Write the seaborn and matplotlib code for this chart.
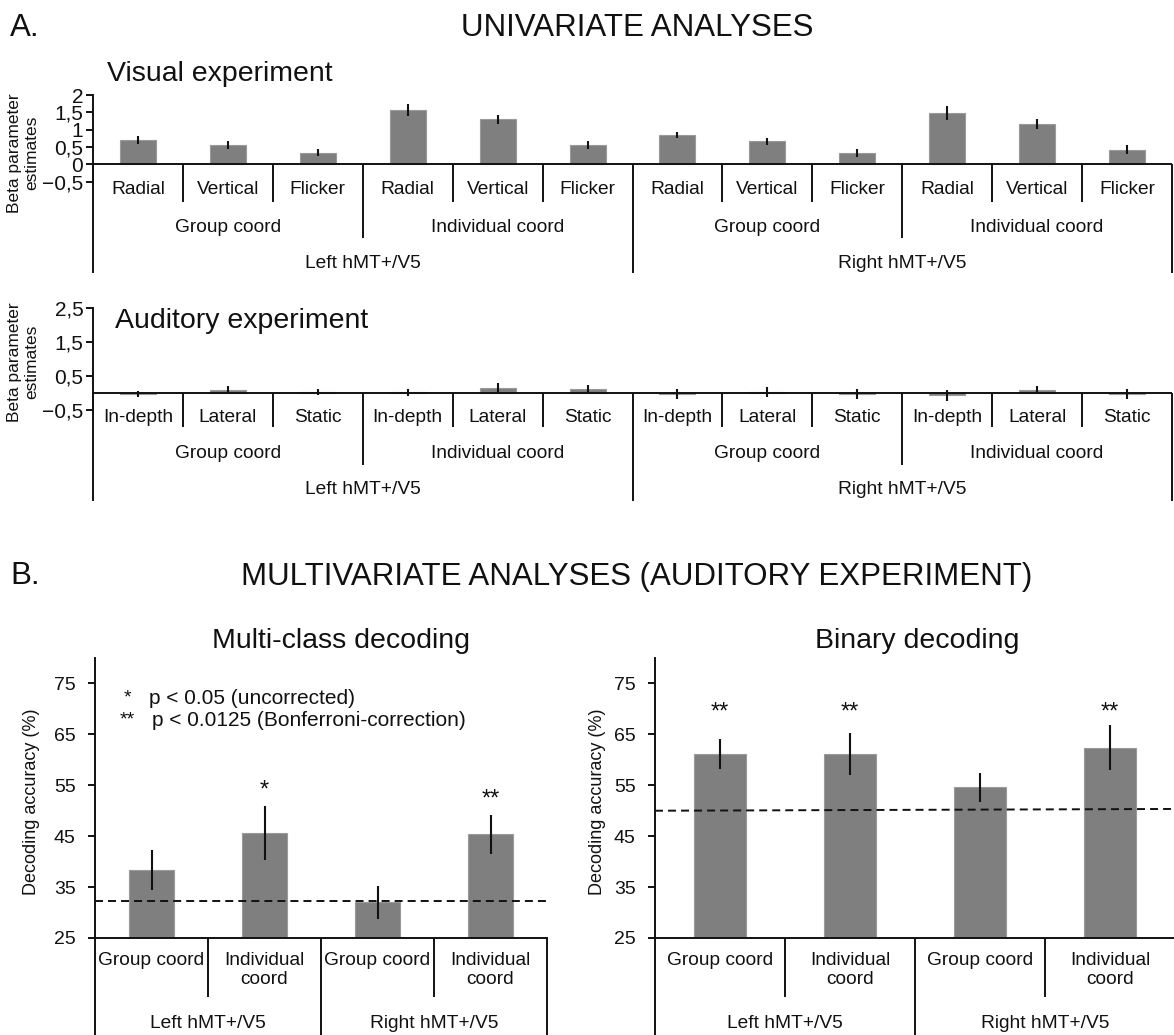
import numpy as np
import pandas as pd
import matplotlib
matplotlib.use("Agg")
import matplotlib.pyplot as plt
import matplotlib.transforms as mtransforms
import seaborn as sns

# ---------------------------------------------------------------- data
hemispheres = ["Left hMT+/V5", "Right hMT+/V5"]
coord_types = ["Group coord", "Individual coord"]
visual_conditions = ["Radial", "Vertical", "Flicker"]
auditory_conditions = ["In-depth", "Lateral", "Static"]

# beta estimates, ordered hemisphere > coordinates > condition
visual_beta = [0.70, 0.55, 0.33, 1.57, 1.30, 0.55, 0.84, 0.66, 0.33, 1.49, 1.16, 0.42]
visual_err = [0.11, 0.11, 0.10, 0.18, 0.13, 0.12, 0.09, 0.11, 0.11, 0.20, 0.14, 0.13]
auditory_beta = [-0.04, 0.09, 0.02, 0.01, 0.15, 0.10, -0.04, 0.03, -0.04, -0.08, 0.08, -0.04]
auditory_err = [0.10, 0.10, 0.09, 0.10, 0.13, 0.12, 0.15, 0.15, 0.14, 0.15, 0.13, 0.15]

visual_yticks = [-0.5, 0, 0.5, 1, 1.5, 2]
visual_yticklabels = ["\u22120,5", "0", "0,5", "1", "1,5", "2"]
auditory_yticks = [-0.5, 0.5, 1.5, 2.5]
auditory_yticklabels = ["\u22120,5", "0,5", "1,5", "2,5"]

decoding_labels = ["Group coord", "Individual\ncoord", "Group coord", "Individual\ncoord"]
decoding_yticks = [25, 35, 45, 55, 65, 75]
multiclass_acc = [38.4, 45.7, 32.0, 45.4]
multiclass_err = [3.9, 5.3, 3.3, 3.85]
multiclass_sig = ["", "*", "", "**"]
multiclass_chance = [32.25, 32.25]
binary_acc = [61.1, 61.1, 54.6, 62.4]
binary_err = [2.9, 4.1, 2.9, 4.45]
binary_sig = ["**", "**", "", "**"]
binary_chance = [50.0, 50.35]

# ---------------------------------------------------------------- style
W, H, DPI = 1174, 1035, 100
INK = "#111111"
BAR_COLOR = "#7f7f7f"
BAR_EDGE = "#9a9a9a"
LW = 1.4
CAT_FS = 13.8

sns.set_style("ticks")
plt.rcParams["font.family"] = ["Liberation Sans", "DejaVu Sans"]
plt.rcParams["text.color"] = INK
plt.rcParams["axes.edgecolor"] = INK
plt.rcParams["xtick.color"] = INK
plt.rcParams["ytick.color"] = INK

fig = plt.figure(figsize=(W / DPI, H / DPI), dpi=DPI)
fig.patch.set_facecolor("white")


def fx(px):
    return px / W


def fy(py):
    return 1 - py / H


def bar_axes(box, values, errs, ylim, yticks, yticklabels, tick_fs, tick_pad):
    left, top, right, bottom = box
    ax = fig.add_axes([fx(left), fy(bottom), (right - left) / W, (bottom - top) / H])
    ax.patch.set_alpha(0)
    n = len(values)
    df = pd.DataFrame({"slot": np.arange(n), "value": values})
    sns.barplot(data=df, x="slot", y="value", color=BAR_COLOR, saturation=1,
                width=0.4, edgecolor=BAR_EDGE, linewidth=0.8, errorbar=None,
                ax=ax, zorder=2)
    ax.errorbar(np.arange(n), values, yerr=errs, fmt="none", ecolor=INK,
                elinewidth=1.5, capsize=0, zorder=3)
    ax.set_xlim(-0.5, n - 0.5)
    ax.set_ylim(*ylim)
    ax.set_yticks(yticks)
    ax.set_yticklabels(yticklabels)
    ax.set_xticks([])
    ax.set_xlabel("")
    ax.set_ylabel("")
    for side in ("top", "right"):
        ax.spines[side].set_visible(False)
    ax.spines["left"].set_linewidth(LW)
    ax.spines["bottom"].set_linewidth(LW)
    ax.tick_params(axis="y", direction="out", length=5, width=LW,
                   labelsize=tick_fs, pad=tick_pad)
    return ax


def category_axis(ax, base_value, n, levels, bottom_px):
    """Nested category labels with separator lines under the x axis."""
    trans = mtransforms.blended_transform_factory(ax.transData, fig.transFigure)
    base = fig.transFigure.inverted().transform(ax.transData.transform((0, base_value)))[1]
    kw = dict(color=INK, lw=LW, transform=trans, clip_on=False, solid_capstyle="butt")
    for k in range(n + 1):
        end = bottom_px
        if 0 < k < n:
            for lev in levels:
                if k % lev["span"] == 0:
                    end = lev["line_end"]
        ax.plot([k - 0.5, k - 0.5], [base, fy(end)], **kw)
    for lev in levels:
        for j, lab in enumerate(lev["labels"]):
            xc = (j + 0.5) * lev["span"] - 0.5
            ax.text(xc, fy(lev["label_y"]), lab, transform=trans, ha="center",
                    va=lev.get("va", "center"), fontsize=CAT_FS, linespacing=1.15)


# ================================================================ A. univariate
fig.text(fx(10), fy(28), "A.", ha="left", va="center", fontsize=22.5)
fig.text(fx(637), fy(28), "UNIVARIATE ANALYSES", ha="center", va="center", fontsize=22.5)

# visual experiment
ax_v = bar_axes((93, 95, 1172, 181.7), visual_beta, visual_err, (-0.5, 2),
                visual_yticks, visual_yticklabels, 15, 2)
ax_v.spines["bottom"].set_visible(False)
ax_v.axhline(0, color=INK, lw=LW, zorder=4)
category_axis(ax_v, 0, 12, [
    dict(labels=visual_conditions * 4, span=1, line_end=202, label_y=189),
    dict(labels=coord_types * 2, span=3, line_end=238, label_y=227),
    dict(labels=hemispheres, span=6, line_end=273, label_y=263),
], 273)
fig.text(fx(107), fy(74), "Visual experiment", ha="left", va="center", fontsize=20.5)
fig.text(fx(23), fy(153), "Beta parameter\nestimates", rotation=90, ha="center",
         va="center", fontsize=12.5, linespacing=1.15)

# auditory experiment
ax_a = bar_axes((93, 307.7, 1172, 409.7), auditory_beta, auditory_err, (-0.5, 2.5),
                auditory_yticks, auditory_yticklabels, 15, 2)
ax_a.spines["bottom"].set_visible(False)
ax_a.axhline(0, color=INK, lw=LW, zorder=4)
category_axis(ax_a, 0, 12, [
    dict(labels=auditory_conditions * 4, span=1, line_end=427, label_y=417),
    dict(labels=coord_types * 2, span=3, line_end=465, label_y=453),
    dict(labels=hemispheres, span=6, line_end=501, label_y=490),
], 501)
fig.text(fx(115), fy(321), "Auditory experiment", ha="left", va="center", fontsize=20.5)
fig.text(fx(23), fy(362), "Beta parameter\nestimates", rotation=90, ha="center",
         va="center", fontsize=12.5, linespacing=1.15)

# ================================================================ B. multivariate
fig.text(fx(10), fy(576), "B.", ha="left", va="center", fontsize=22.5)
fig.text(fx(637), fy(577), "MULTIVARIATE ANALYSES (AUDITORY EXPERIMENT)",
         ha="center", va="center", fontsize=22.5)

dash = (0, (4.1, 2.6))


def decoding_levels():
    return [
        dict(labels=decoding_labels, span=1, line_end=997, label_y=952, va="top"),
        dict(labels=hemispheres, span=2, line_end=1035, label_y=1023),
    ]


# multi-class decoding
ax_m = bar_axes((95, 658, 547, 938), multiclass_acc, multiclass_err, (25, 80),
                decoding_yticks, [str(t) for t in decoding_yticks], 14, 9)
ax_m.plot([-0.5, 3.53], multiclass_chance, color=INK, lw=1.4, ls=dash, clip_on=False, zorder=4)
for i, s in enumerate(multiclass_sig):
    if s:
        ax_m.text(i, multiclass_acc[i] + multiclass_err[i] + 3.0, s, ha="center",
                  va="center", fontsize=17)
category_axis(ax_m, 25, 4, decoding_levels(), 1035)
fig.text(fx(341), fy(641), "Multi-class decoding", ha="center", va="center", fontsize=20.5)
fig.text(fx(32), fy(802), "Decoding accuracy (%)", rotation=90, ha="center",
         va="center", fontsize=13)
fig.text(fx(124), fy(698), "*", ha="left", va="center", fontsize=14)
fig.text(fx(149), fy(698), "p < 0.05 (uncorrected)", ha="left", va="center", fontsize=15)
fig.text(fx(120), fy(720), "**", ha="left", va="center", fontsize=14)
fig.text(fx(152), fy(720), "p < 0.0125 (Bonferroni-correction)", ha="left",
         va="center", fontsize=15)

# binary decoding
ax_b = bar_axes((655, 658, 1175, 938), binary_acc, binary_err, (25, 80),
                decoding_yticks, [str(t) for t in decoding_yticks], 14, 9)
ax_b.plot([-0.5, 3.5], binary_chance, color=INK, lw=1.4, ls=dash, clip_on=False, zorder=4)
for i, s in enumerate(binary_sig):
    if s:
        ax_b.text(i, 69.2, s, ha="center", va="center", fontsize=17)
category_axis(ax_b, 25, 4, decoding_levels(), 1035)
fig.text(fx(917), fy(641), "Binary decoding", ha="center", va="center", fontsize=20.5)
fig.text(fx(597), fy(802), "Decoding accuracy (%)", rotation=90, ha="center",
         va="center", fontsize=13)

fig.savefig("out.png", dpi=DPI, facecolor="white")
